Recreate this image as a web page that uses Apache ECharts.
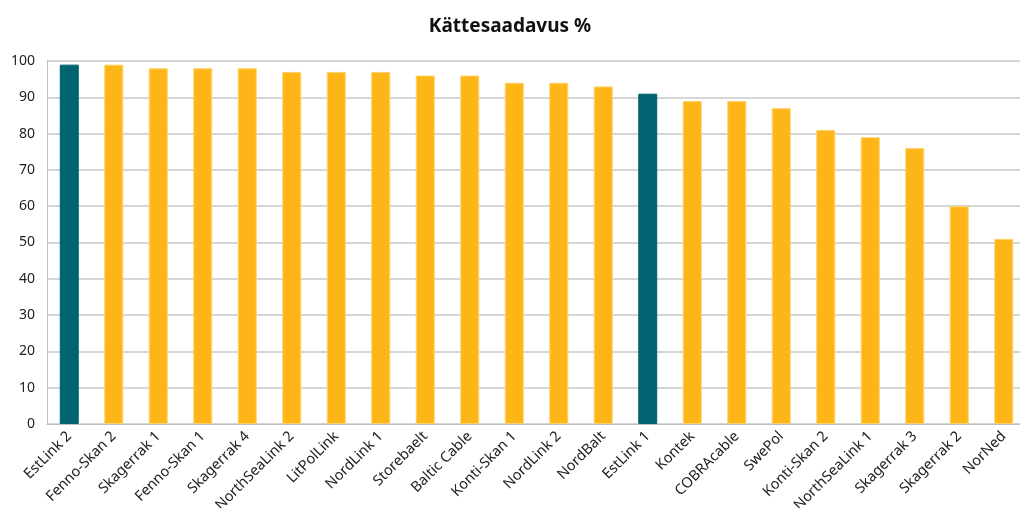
<!DOCTYPE html>
<html>
<head>
<meta charset="utf-8">
<script src="https://cdn.jsdelivr.net/npm/echarts@6/dist/echarts.min.js"></script>
<style>
  html, body { margin: 0; padding: 0; background: #fff; }
  #chart { width: 1020px; height: 508px; }
</style>
</head>
<body>
<div id="chart"></div>
<script>
const categories = ['EstLink 2', 'Fenno-Skan 2', 'Skagerrak 1', 'Fenno-Skan 1', 'Skagerrak 4',
    'NorthSeaLink 2', 'LitPolLink', 'NordLink 1', 'Storebaelt', 'Baltic Cable', 'Konti-Skan 1',
    'NordLink 2', 'NordBalt', 'EstLink 1', 'Kontek', 'COBRAcable', 'SwePol', 'Konti-Skan 2',
    'NorthSeaLink 1', 'Skagerrak 3', 'Skagerrak 2', 'NorNed'];
const values = [99, 99, 98, 98, 98, 97, 97, 97, 96, 96, 94, 94, 93, 91, 89, 89, 87, 81, 79, 76, 60, 51];
// EstLink lõigud on teise värviga
const highlighted = ['EstLink 2', 'EstLink 1'];

const teal = '#00636f';
const orange = '#fdb518';

const chart = echarts.init(document.getElementById('chart'));

const option = {
    textStyle: { fontFamily: 'Noto Sans' },
    title: {
        text: 'Kättesaadavus %',
        left: 'center',
        top: 12,
        textStyle: { fontSize: 19, fontWeight: 'bold', color: '#111' }
    },
    grid: {
        left: 47,
        top: 61,
        width: 979,
        height: 363,
        outerBoundsMode: 'none'
    },
    xAxis: {
        type: 'category',
        data: categories,
        axisLine: { lineStyle: { color: '#bfbfbf' } },
        axisTick: { lineStyle: { color: '#bfbfbf' }, length: 5 },
        axisLabel: {
            rotate: 45,
            interval: 0,
            fontSize: 14.5,
            color: '#222',
            margin: 10
        }
    },
    yAxis: {
        type: 'value',
        min: 0,
        max: 100,
        interval: 10,
        axisLine: { show: true, lineStyle: { color: '#bfbfbf' } },
        splitLine: { lineStyle: { color: '#c8c8c8', width: 1.5 } },
        axisLabel: { fontSize: 14, color: '#222', margin: 12 }
    },
    series: [{
        type: 'bar',
        barWidth: 19,
        data: values.map((v, i) => ({
            value: v,
            itemStyle: {
                color: highlighted.includes(categories[i]) ? teal : orange,
                borderColor: highlighted.includes(categories[i]) ? teal : '#fdd36a',
                borderWidth: 1
            }
        }))
    }]
};

chart.setOption(option);
</script>
</body>
</html>
